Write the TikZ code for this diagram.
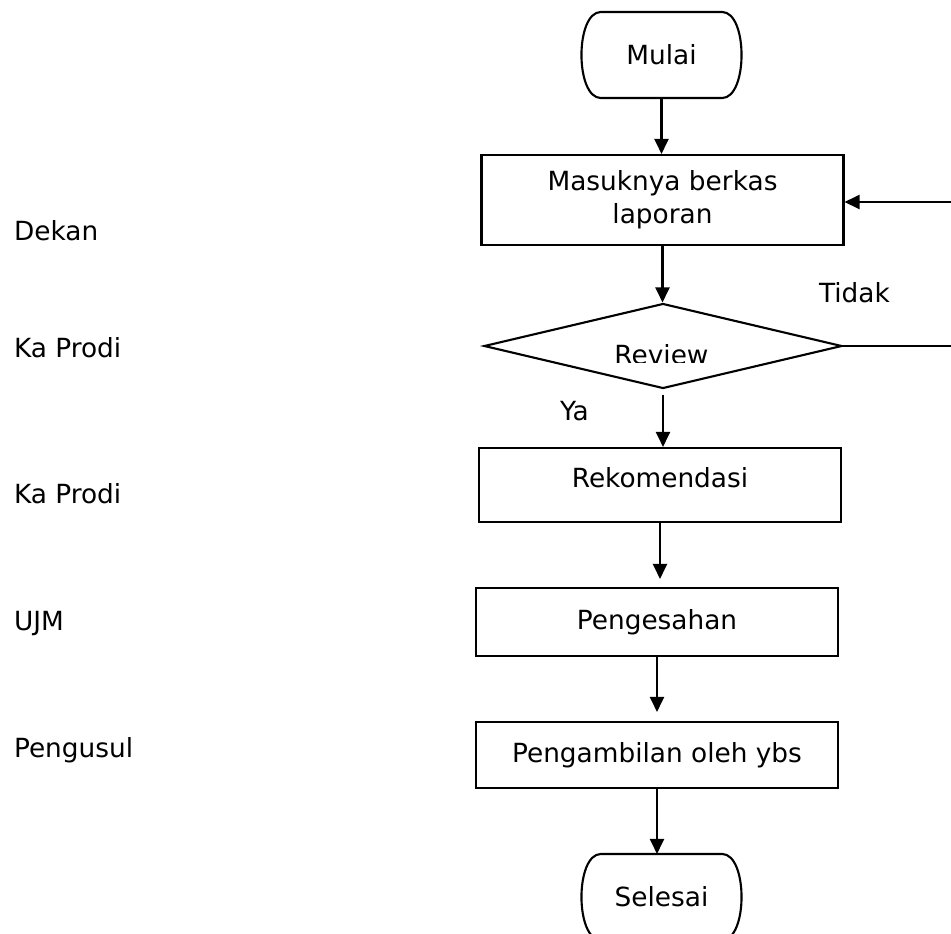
\documentclass[tikz,border=0pt]{standalone}
\usepackage{fontspec}
\setmainfont{DejaVu Sans}
\usetikzlibrary{arrows.meta,shapes.geometric}
\tikzset{
  >={Triangle[length=3mm,width=2.8mm]},
  tm/.style={rectangle,minimum width=3.14cm,minimum height=1.68cm,inner sep=0pt},
  bx/.style={rectangle,draw,minimum width=7.24cm,inner sep=0pt,align=center},
  dm/.style={diamond,draw,aspect=4.2,minimum width=7.16cm,minimum height=1.7cm,inner sep=0pt},
  lb/.style={anchor=base west,inner sep=0pt},
}
% garis tepi terminal (ujung melengkung)
\newcommand{\termshape}[1]{%
  \draw ([xshift=0.38cm]#1.north west) -- ([xshift=-0.38cm]#1.north east)
    .. controls ([xshift=0.14cm]#1.north east) and ([xshift=0.14cm]#1.south east) .. ([xshift=-0.38cm]#1.south east)
    -- ([xshift=0.38cm]#1.south west)
    .. controls ([xshift=-0.14cm]#1.south west) and ([xshift=-0.14cm]#1.north west) .. ([xshift=0.38cm]#1.north west) -- cycle;}
\begin{document}
\begin{tikzpicture}[x=0.02cm,y=-0.02cm,line width=1.2pt,font=\fontsize{15}{19}\selectfont]
\useasboundingbox (0,0) rectangle (951,934);
\clip (0,0) rectangle (951,934);
% jabatan di kiri
\node[lb] (dekan) at (13,240){Dekan};
\node[lb] (kaprodiA) at (13,357){Ka Prodi};
\node[lb] (kaprodiB) at (13,503){Ka Prodi};
\node[lb] (ujm) at (13,630){UJM};
\node[lb] (pengusul) at (13,757){Pengusul};
% alur
\node[tm] (mulai) at (661.5,55){Mulai}; \termshape{mulai}
\node[bx,minimum height=1.8cm] (masuk) at (662.5,200){Masuknya berkas\\laporan};
\node[dm] (review) at (663,346){};
\begin{scope}
\clip (480,300) rectangle (850,362);
\node[inner sep=0pt,anchor=base] (reviewtxt) at (661.5,364){Review};
\end{scope}
\node[bx,minimum height=1.48cm,text depth=0.32cm] (rekom) at (660,485){Rekomendasi};
\node[bx,minimum height=1.36cm] (sah) at (657,622){Pengesahan};
\node[bx,minimum height=1.32cm] (ambil) at (657,755){Pengambilan oleh ybs};
\node[tm] (selesai) at (661.5,897){Selesai}; \termshape{selesai}
\node[lb] (tidak) at (818,302){Tidak};
\node[lb] (ya) at (559,420){Ya};
\coordinate (rgt) at (960,346); \coordinate (rgtup) at (960,202);
\begin{scope}[->]
\draw (mulai.south) -- (mulai.south |- masuk.north);
\draw (masuk.south) -- (masuk.south |- review.north);
\draw[shorten <=0.1cm] (review.south) -- (review.south |- rekom.north);
\draw[shorten >=0.16cm] (rekom.south) -- (rekom.south |- sah.north);
\draw[shorten >=0.18cm] (sah.south) -- (sah.south |- ambil.north);
\draw (ambil.south) -- (ambil.south |- selesai.north);
\draw (review.east) -- (rgt) -- (rgtup) -- (rgtup -| masuk.east);
\end{scope}
\end{tikzpicture}
\end{document}
